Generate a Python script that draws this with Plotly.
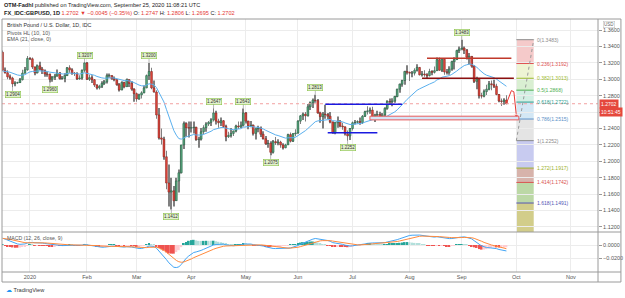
import numpy as np
import pandas as pd
import plotly.graph_objects as go

# ---------------- DATA ----------------
first_bar = "2019-12-17"

open_ = [
    # Dec 2019
    1.3330, 1.3110, 1.3080, 1.3030, 1.3015, 1.2945, 1.2955, 1.2960, 1.2995, 1.3075, 1.3115,
    # Jan 2020
    1.3255, 1.3250, 1.3150, 1.3080, 1.3165, 1.3125, 1.3105, 1.3065, 1.3060, 1.3000, 1.3025, 1.3040,
    1.3075, 1.3010, 1.3010, 1.3045, 1.3140, 1.3115, 1.3075, 1.3070, 1.3005, 1.3015, 1.3110,
    # Feb
    1.3200, 1.3000, 1.3020, 1.2995, 1.2930, 1.2895, 1.2915, 1.2950, 1.2970, 1.3045, 1.3045, 1.3005,
    1.2995, 1.2935, 1.2870, 1.2960, 1.2910, 1.2995, 1.2950, 1.2880,
    # Mar
    1.2825, 1.2760, 1.2810, 1.2835, 1.2895, 1.3045, 1.3095, 1.2895, 1.2845, 1.2565, 1.2285, 1.2270,
    1.2055, 1.1735, 1.1625, 1.1640, 1.1520, 1.1760, 1.1860, 1.2200, 1.2460, 1.2410,
    # Apr
    1.2405, 1.2410, 1.2415, 1.2265, 1.2270, 1.2360, 1.2410, 1.2455, 1.2475, 1.2505, 1.2590, 1.2490,
    1.2470, 1.2495, 1.2425, 1.2300, 1.2315, 1.2340, 1.2370, 1.2430, 1.2420, 1.2440,
    # May
    1.2590, 1.2490, 1.2435, 1.2440, 1.2340, 1.2395, 1.2405, 1.2330, 1.2275, 1.2215, 1.2220, 1.2110,
    1.2240, 1.2225, 1.2235, 1.2200, 1.2165, 1.2200, 1.2325, 1.2245, 1.2335,
    # Jun
    1.2345, 1.2490, 1.2555, 1.2575, 1.2555, 1.2665, 1.2715, 1.2745, 1.2740, 1.2590, 1.2545, 1.2575,
    1.2570, 1.2550, 1.2480, 1.2345, 1.2470, 1.2485, 1.2430, 1.2420, 1.2335, 1.2310,
    # Jul
    1.2400, 1.2470, 1.2475, 1.2485, 1.2470, 1.2550, 1.2605, 1.2615, 1.2625, 1.2545, 1.2565, 1.2570,
    1.2545, 1.2565, 1.2645, 1.2730, 1.2725, 1.2735, 1.2790, 1.2880, 1.2940, 1.2985, 1.3095,
    # Aug
    1.3085, 1.3075, 1.3075, 1.3110, 1.3145, 1.3055, 1.3065, 1.3055, 1.3045, 1.3095, 1.3085, 1.3105,
    1.3240, 1.3110, 1.3245, 1.3090, 1.3085, 1.3125, 1.3215, 1.3240, 1.3350,
    # Sep
    1.3370, 1.3380, 1.3355, 1.3270, 1.3280, 1.3160, 1.2975, 1.3000, 1.2800, 1.2795, 1.2850, 1.2880,
    1.2945, 1.2935, 1.2915, 1.2815, 1.2735, 1.2730, 1.2747,
]
high = [
    1.3350, 1.3145, 1.3110, 1.3060, 1.3030, 1.2975, 1.2970, 1.3015, 1.3118, 1.3150, 1.3284,
    1.3270, 1.3265, 1.3155, 1.3180, 1.3215, 1.3150, 1.3120, 1.3095, 1.3070, 1.3040, 1.3065, 1.3120,
    1.3090, 1.3040, 1.3075, 1.3150, 1.3170, 1.3135, 1.3090, 1.3085, 1.3050, 1.3120, 1.3207,
    1.3210, 1.3055, 1.3050, 1.3005, 1.2940, 1.2935, 1.2975, 1.2990, 1.3070, 1.3070, 1.3050, 1.3035,
    1.3000, 1.2955, 1.2975, 1.2970, 1.3010, 1.3000, 1.2975, 1.2890,
    1.2840, 1.2825, 1.2855, 1.2925, 1.3060, 1.3200, 1.3140, 1.2985, 1.2865, 1.2650, 1.2400, 1.2300,
    1.2130, 1.1960, 1.1800, 1.1700, 1.1800, 1.1900, 1.2200, 1.2485, 1.2475, 1.2485,
    1.2485, 1.2485, 1.2420, 1.2300, 1.2405, 1.2440, 1.2475, 1.2490, 1.2525, 1.2647, 1.2615, 1.2520,
    1.2535, 1.2505, 1.2445, 1.2360, 1.2405, 1.2375, 1.2445, 1.2485, 1.2485, 1.2643,
    1.2600, 1.2495, 1.2490, 1.2450, 1.2410, 1.2435, 1.2425, 1.2365, 1.2310, 1.2260, 1.2245, 1.2260,
    1.2295, 1.2270, 1.2250, 1.2220, 1.2215, 1.2335, 1.2350, 1.2345, 1.2390,
    1.2500, 1.2565, 1.2595, 1.2600, 1.2700, 1.2730, 1.2765, 1.2813, 1.2760, 1.2605, 1.2600, 1.2690,
    1.2590, 1.2600, 1.2485, 1.2480, 1.2545, 1.2505, 1.2470, 1.2425, 1.2375, 1.2405,
    1.2485, 1.2505, 1.2500, 1.2535, 1.2565, 1.2615, 1.2670, 1.2655, 1.2665, 1.2580, 1.2615, 1.2605,
    1.2590, 1.2660, 1.2745, 1.2765, 1.2770, 1.2800, 1.2885, 1.2950, 1.2995, 1.3105, 1.3170,
    1.3095, 1.3100, 1.3135, 1.3185, 1.3150, 1.3100, 1.3110, 1.3075, 1.3130, 1.3110, 1.3155, 1.3265,
    1.3267, 1.3250, 1.3250, 1.3125, 1.3160, 1.3225, 1.3270, 1.3360, 1.3400,
    1.3483, 1.3400, 1.3370, 1.3320, 1.3285, 1.3170, 1.3030, 1.3010, 1.2835, 1.2875, 1.2935, 1.2980,
    1.2985, 1.2995, 1.2945, 1.2820, 1.2765, 1.2770, 1.2806,
]
low = [
    1.3105, 1.3070, 1.3000, 1.2995, 1.2904, 1.2915, 1.2945, 1.2955, 1.2985, 1.3070, 1.3105,
    1.3235, 1.3125, 1.3050, 1.3070, 1.3110, 1.3065, 1.3030, 1.3030, 1.2960, 1.2970, 1.2990, 1.3030,
    1.2995, 1.2995, 1.2965, 1.3040, 1.3080, 1.3055, 1.3040, 1.2990, 1.2995, 1.2995, 1.3085,
    1.2990, 1.2980, 1.2955, 1.2905, 1.2875, 1.2875, 1.2895, 1.2930, 1.2950, 1.3020, 1.2995, 1.2975,
    1.2920, 1.2850, 1.2865, 1.2890, 1.2905, 1.2905, 1.2860, 1.2725,
    1.2725, 1.2750, 1.2765, 1.2830, 1.2890, 1.2990, 1.2880, 1.2840, 1.2520, 1.2265, 1.2205, 1.2020,
    1.1660, 1.1450, 1.1412, 1.1450, 1.1515, 1.1620, 1.1850, 1.2150, 1.2300, 1.2290,
    1.2350, 1.2340, 1.2250, 1.2165, 1.2255, 1.2330, 1.2360, 1.2430, 1.2430, 1.2485, 1.2450, 1.2410,
    1.2430, 1.2405, 1.2245, 1.2285, 1.2290, 1.2310, 1.2355, 1.2395, 1.2405, 1.2425,
    1.2460, 1.2390, 1.2415, 1.2315, 1.2265, 1.2355, 1.2295, 1.2265, 1.2200, 1.2165, 1.2075, 1.2095,
    1.2200, 1.2195, 1.2165, 1.2145, 1.2160, 1.2200, 1.2230, 1.2235, 1.2305,
    1.2335, 1.2455, 1.2505, 1.2485, 1.2545, 1.2625, 1.2650, 1.2715, 1.2580, 1.2470, 1.2400, 1.2520,
    1.2515, 1.2465, 1.2335, 1.2330, 1.2410, 1.2415, 1.2385, 1.2315, 1.2252, 1.2260,
    1.2375, 1.2450, 1.2460, 1.2445, 1.2455, 1.2540, 1.2570, 1.2580, 1.2540, 1.2480, 1.2545, 1.2520,
    1.2505, 1.2535, 1.2630, 1.2690, 1.2670, 1.2715, 1.2780, 1.2835, 1.2910, 1.2935, 1.3060,
    1.2980, 1.3025, 1.3045, 1.3095, 1.3045, 1.3035, 1.3030, 1.3005, 1.3035, 1.3050, 1.3070, 1.3100,
    1.3105, 1.3090, 1.3055, 1.3060, 1.3055, 1.3105, 1.3120, 1.3235, 1.3320,
    1.3355, 1.3310, 1.3240, 1.3180, 1.3140, 1.2955, 1.2880, 1.2765, 1.2765, 1.2780, 1.2810, 1.2865,
    1.2865, 1.2895, 1.2805, 1.2720, 1.2675, 1.2690, 1.2695,
]
close = [
    1.3110, 1.3080, 1.3030, 1.3015, 1.2945, 1.2955, 1.2960, 1.2995, 1.3075, 1.3115, 1.3255,
    1.3250, 1.3150, 1.3080, 1.3165, 1.3125, 1.3105, 1.3065, 1.3060, 1.3000, 1.3025, 1.3040, 1.3075,
    1.3010, 1.3010, 1.3045, 1.3140, 1.3115, 1.3075, 1.3070, 1.3005, 1.3015, 1.3110, 1.3200,
    1.3000, 1.3020, 1.2995, 1.2930, 1.2895, 1.2915, 1.2950, 1.2970, 1.3045, 1.3045, 1.3005, 1.2995,
    1.2935, 1.2870, 1.2960, 1.2910, 1.2995, 1.2950, 1.2880, 1.2825,
    1.2760, 1.2810, 1.2835, 1.2895, 1.3045, 1.3095, 1.2895, 1.2845, 1.2565, 1.2285, 1.2270, 1.2055,
    1.1735, 1.1625, 1.1640, 1.1520, 1.1760, 1.1860, 1.2200, 1.2460, 1.2410, 1.2405,
    1.2410, 1.2415, 1.2265, 1.2270, 1.2360, 1.2410, 1.2455, 1.2475, 1.2505, 1.2590, 1.2490, 1.2470,
    1.2495, 1.2425, 1.2300, 1.2315, 1.2340, 1.2370, 1.2430, 1.2420, 1.2440, 1.2590,
    1.2490, 1.2435, 1.2440, 1.2340, 1.2395, 1.2405, 1.2330, 1.2275, 1.2215, 1.2220, 1.2110, 1.2240,
    1.2225, 1.2235, 1.2200, 1.2165, 1.2200, 1.2325, 1.2245, 1.2335, 1.2345,
    1.2490, 1.2555, 1.2575, 1.2555, 1.2665, 1.2715, 1.2745, 1.2740, 1.2590, 1.2545, 1.2575, 1.2570,
    1.2550, 1.2480, 1.2345, 1.2470, 1.2485, 1.2430, 1.2420, 1.2335, 1.2310, 1.2400,
    1.2470, 1.2475, 1.2485, 1.2470, 1.2550, 1.2605, 1.2615, 1.2625, 1.2545, 1.2565, 1.2570, 1.2545,
    1.2565, 1.2645, 1.2730, 1.2725, 1.2735, 1.2790, 1.2880, 1.2940, 1.2985, 1.3095, 1.3085,
    1.3075, 1.3075, 1.3110, 1.3145, 1.3055, 1.3065, 1.3055, 1.3045, 1.3095, 1.3085, 1.3105, 1.3240,
    1.3110, 1.3245, 1.3090, 1.3085, 1.3125, 1.3215, 1.3240, 1.3350, 1.3370,
    1.3380, 1.3355, 1.3270, 1.3280, 1.3160, 1.2975, 1.3000, 1.2800, 1.2795, 1.2850, 1.2880, 1.2945,
    1.2935, 1.2915, 1.2815, 1.2735, 1.2730, 1.2747, 1.2702,
]

# indicator settings (seeds = indicator state before the first visible bar)
ema_length = 21
ema_seed = 1.3100
macd_fast, macd_slow, macd_sig = 12, 26, 9
macd_fast_seed = 1.3180
macd_slow_seed = 1.3060
macd_signal_seed = 0.0100

# Pivots HL labels
pivot_dates = ["2019-12-23", "2020-01-13", "2020-01-31", "2020-03-09", "2020-03-20", "2020-04-14",
               "2020-04-30", "2020-05-15", "2020-06-10", "2020-06-29", "2020-09-01"]
pivot_prices = [1.2904, 1.2960, 1.3207, 1.3200, 1.1412, 1.2647, 1.2643, 1.2075, 1.2813, 1.2252, 1.3483]
pivot_kind = ["L", "L", "H", "H", "L", "H", "H", "L", "H", "L", "H"]

# Fibonacci retracement drawing
fib_high = 1.3483
fib_low = 1.2252
fib_ratios = [0, 0.236, 0.382, 0.5, 0.618, 0.786, 1, 1.272, 1.414, 1.618, 2.618]
fib_line_colors = ["#8a8a8a", "#e05252", "#9cba2e", "#4caf50", "#2a9d8f", "#5b8fc7",
                   "#8a8a8a", "#9cb02a", "#d9534f", "#5555b5", "#a0a040"]
fib_fill_colors = ["#f5caca", "#eef4d4", "#d9efd2", "#d3efe4", "#d3e7f5", "#e4e4e4",
                   "#c8cbf0", "#d7b3ab", "#bcd8a6", "#d2cd8a"]
fib_x = ["2020-10-01", "2020-10-12"]

# user drawings
blue_x0 = ["2020-06-16", "2020-06-17"]
blue_x1 = ["2020-07-29", "2020-07-15"]
blue_y = [1.2695, 1.2349]
red_x0 = ["2020-08-12", "2020-08-10"]
red_x1 = ["2020-09-29", "2020-09-30"]
red_y = [1.3256, 1.3012]
red_colors = ["#c0392b", "#8b1010"]
zone_x = ["2020-07-10", "2020-10-02"]
zone_y = [1.2505, 1.2550]
path_x = ["2020-09-25", "2020-09-29", "2020-09-30", "2020-10-01"]
path_y = [1.2705, 1.2862, 1.2848, 1.2558]

month_labels = ["2020", "Feb", "Mar", "Apr", "May", "Jun", "Jul", "Aug", "Sep", "Oct", "Nov"]
price_ticks = [1.12, 1.14, 1.16, 1.18, 1.20, 1.22, 1.24, 1.26, 1.28, 1.30, 1.32, 1.34, 1.36]
hidden_tick = 1.26  # covered by the live price labels in the reference
macd_ticks = [0.0, -0.02]

# ---------------- helpers ----------------
n = len(close)
assert len(open_) == n and len(high) == n and len(low) == n
all_days = pd.bdate_range(first_bar, "2020-11-30")
cats = [d.strftime("%Y-%m-%d") for d in all_days]
bar_x = cats[:n]
assert bar_x[-1] == "2020-09-25", bar_x[-1]
month_vals = [pd.bdate_range(f"2020-{m:02d}-01", periods=1)[0].strftime("%Y-%m-%d") for m in range(1, 12)]


def ema(values, length, seed):
    a = 2.0 / (length + 1)
    out, e = [], seed
    for v in values:
        e = a * v + (1 - a) * e
        out.append(e)
    return out


ema21 = ema(close, ema_length, ema_seed)
fast = ema(close, macd_fast, macd_fast_seed)
slow = ema(close, macd_slow, macd_slow_seed)
macd = [f - s for f, s in zip(fast, slow)]
signal = ema(macd, macd_sig, macd_signal_seed)
hist = [m - s for m, s in zip(macd, signal)]
hist_colors = []
prev = hist[0]
for h in hist:
    if h >= 0:
        hist_colors.append("#26a69a" if h >= prev else "#b2dfdb")
    else:
        hist_colors.append("#ffcdd2" if h >= prev else "#ef5350")
    prev = h

up = [c >= o for o, c in zip(open_, close)]
body_base = [min(o, c) for o, c in zip(open_, close)]
body_h = [max(abs(c - o), 0.0003) for o, c in zip(open_, close)]
body_fill = ["#55a57c" if u else "#e0463c" for u in up]
body_line = ["#24593f" if u else "#7d1f18" for u in up]

# ---------------- figure ----------------
W, H = 625, 298
ML, MR, MT, MB = 2, 25, 19, 26
ph = H - MT - MB
split = 40 / ph
FONT = "Liberation Sans, Arial, sans-serif"
GRID = "#ececec"

fig = go.Figure()

fig.add_trace(go.Bar(x=bar_x, base=low, y=[h - l for h, l in zip(high, low)], width=0.3,
                     marker=dict(color="#808080", line=dict(width=0)), xaxis="x", yaxis="y",
                     hoverinfo="skip", showlegend=False))
fig.add_trace(go.Bar(x=bar_x, base=body_base, y=body_h, width=0.75,
                     marker=dict(color=body_fill, line=dict(color=body_line, width=0.5)),
                     xaxis="x", yaxis="y", showlegend=False))
fig.add_trace(go.Scatter(x=bar_x, y=ema21, mode="lines", line=dict(color="#5ab0ee", width=1),
                         xaxis="x", yaxis="y", showlegend=False, hoverinfo="skip"))

# projection path
fig.add_trace(go.Scatter(x=path_x, y=path_y, mode="lines+markers",
                         line=dict(color="#e53935", width=1),
                         marker=dict(symbol="triangle-down", size=[0, 0, 0, 5], color="#e53935"),
                         xaxis="x", yaxis="y", showlegend=False, hoverinfo="skip"))

# MACD pane
fig.add_trace(go.Bar(x=bar_x, y=hist, width=0.75, marker=dict(color=hist_colors, line=dict(width=0)),
                     xaxis="x2", yaxis="y2", showlegend=False))
fig.add_trace(go.Scatter(x=bar_x, y=macd, mode="lines", line=dict(color="#42a5f5", width=1),
                         xaxis="x2", yaxis="y2", showlegend=False))
fig.add_trace(go.Scatter(x=bar_x, y=signal, mode="lines", line=dict(color="#ff8a3d", width=1),
                         xaxis="x2", yaxis="y2", showlegend=False))

shapes = []
# Fibonacci fills and lines
levels = [fib_high - r * (fib_high - fib_low) for r in fib_ratios]
for k in range(len(levels) - 1):
    shapes.append(dict(type="rect", xref="x", yref="y", x0=fib_x[0], x1=fib_x[1],
                       y0=levels[k], y1=levels[k + 1], fillcolor=fib_fill_colors[k],
                       line=dict(width=0), layer="below"))
for k, lv in enumerate(levels):
    shapes.append(dict(type="line", xref="x", yref="y", x0=fib_x[0], x1=fib_x[1], y0=lv, y1=lv,
                       line=dict(color=fib_line_colors[k], width=1)))
shapes.append(dict(type="line", xref="x", yref="y", x0=fib_x[0], x1=fib_x[1], y0=fib_low, y1=fib_high,
                   line=dict(color="#9a9a9a", width=1, dash="dot")))
# last price line
shapes.append(dict(type="line", xref="paper", yref="y", x0=0, x1=1, y0=close[-1], y1=close[-1],
                   line=dict(color="#f2a0a0", width=1, dash="dot")))
# zone rectangle
shapes.append(dict(type="rect", xref="x", yref="y", x0=zone_x[0], x1=zone_x[1], y0=zone_y[0], y1=zone_y[1],
                   fillcolor="#d5e5f6", line=dict(color="#e85a5a", width=1)))
for x0, x1, y in zip(blue_x0, blue_x1, blue_y):
    shapes.append(dict(type="line", xref="x", yref="y", x0=x0, x1=x1, y0=y, y1=y,
                       line=dict(color="#1a1ae0", width=1.5)))
for x0, x1, y, c in zip(red_x0, red_x1, red_y, red_colors):
    shapes.append(dict(type="line", xref="x", yref="y", x0=x0, x1=x1, y0=y, y1=y,
                       line=dict(color=c, width=1.5)))
# frame
fy0 = -10 / ph
fx1 = 1 + (W - 2 - ML - (W - ML - MR)) / (W - ML - MR)
FR = "#9a9a9a"
shapes += [
    dict(type="rect", xref="paper", yref="paper", x0=0, x1=fx1, y0=fy0, y1=1, line=dict(color=FR, width=1)),
    dict(type="line", xref="paper", yref="paper", x0=1, x1=1, y0=fy0, y1=1, line=dict(color=FR, width=1)),
    dict(type="line", xref="paper", yref="paper", x0=0, x1=fx1, y0=split, y1=split, line=dict(color=FR, width=1)),
    dict(type="line", xref="paper", yref="paper", x0=0, x1=fx1, y0=0, y1=0, line=dict(color=FR, width=1)),
]

ann = []
# pivots
for d, p, k in zip(pivot_dates, pivot_prices, pivot_kind):
    ann.append(dict(x=d, y=p, xref="x", yref="y", text=f"{p:.4f}", showarrow=True, arrowhead=0,
                    arrowwidth=0.6, arrowcolor="#8a8a8a", ax=0, ay=(-7 if k == "H" else 7),
                    font=dict(size=4.5, color="#333", family=FONT), bgcolor="#e2f1cc",
                    bordercolor="#8bc34a", borderwidth=0.6, borderpad=0.3))
# fib labels
for r, lv, c in zip(fib_ratios, levels, fib_line_colors):
    if lv < 1.12:
        continue
    ann.append(dict(x=fib_x[1], y=lv, xref="x", yref="y", text=f"{r:g}({lv:.4f})", showarrow=False,
                    xanchor="left", xshift=1, font=dict(size=5, color=c, family=FONT)))


def pa(x, y, text, size=5.5, color="#444", xanchor="left", **kw):
    d = dict(x=x, y=y, xref="paper", yref="paper", text=text, showarrow=False, xanchor=xanchor,
             yanchor="middle", font=dict(size=size, color=color, family=FONT))
    d.update(kw)
    return d


def py(pix):
    return (H - MB - pix) / ph


def px(pix):
    return (pix - ML) / (W - ML - MR)


RED = "#e53935"
ann += [
    pa(0, py(5), "<b>OTM-Fadhl</b> published on TradingView.com, September 25, 2020 11:08:21 UTC",
       size=5.6, color="#222"),
    pa(0, py(13), "<b>FX_IDC:GBPUSD, 1D</b> <span style='color:%s'>1.2702 ▼ −0.0045 (−0.35%%)</span> "
                  "O: <span style='color:%s'>1.2747</span> H: <span style='color:%s'>1.2806</span> "
                  "L: <span style='color:%s'>1.2695</span> C: <span style='color:%s'>1.2702</span>"
                  % (RED, RED, RED, RED, RED), size=5.6, color="#222"),
    pa(px(5), py(25.5), "British Pound / U.S. Dollar, 1D, IDC", size=5.4, color="#333"),
    pa(px(5), py(32.5), "Pivots HL (10, 10)", size=5.4, color="#555"),
    pa(px(5), py(39.5), "EMA (21, close, 0)", size=5.4, color="#555"),
    pa(px(5), py(238), "MACD (12, 26, close, 9)", size=5.2, color="#555"),
    pa(px(4), py(290), "<span style='color:#2196f3'>☁</span> TradingView", size=5.6, color="#333"),
    pa(px(611), py(24), "USD", size=4.5, color="#666", xanchor="center", bgcolor="#fff",
       bordercolor="#bbb", borderwidth=0.5, borderpad=0.5),
    dict(x=1, y=close[-1], xref="paper", yref="y", text="1.2702", showarrow=False, xanchor="left",
         xshift=1, font=dict(size=5, color="#fff", family=FONT), bgcolor="#e5483c", borderpad=1),
    dict(x=1, y=close[-1], xref="paper", yref="y", text="10:51:45", showarrow=False, xanchor="left",
         xshift=1, yshift=-8, font=dict(size=5, color="#fff", family=FONT), bgcolor="#e5483c", borderpad=1),
]

xcommon = dict(type="category", categoryorder="array", categoryarray=cats, range=[-0.24, 239.9],
               tickvals=month_vals, ticktext=month_labels, showgrid=True, gridcolor=GRID, gridwidth=1,
               zeroline=False, showline=False, ticks="", fixedrange=True)

fig.update_layout(
    width=W, height=H, margin=dict(l=ML, r=MR, t=MT, b=MB),
    paper_bgcolor="white", plot_bgcolor="white", barmode="overlay", showlegend=False,
    font=dict(family=FONT, size=5.5, color="#555"),
    xaxis=dict(**xcommon, anchor="y", domain=[0, 1], showticklabels=False,
               rangeslider=dict(visible=False)),
    xaxis2=dict(**xcommon, anchor="y2", domain=[0, 1], matches="x", showticklabels=True,
                tickfont=dict(size=5.5, color="#555")),
    yaxis=dict(domain=[split, 1], side="right", range=[1.11378, 1.37354], tickvals=price_ticks,
               ticktext=["" if abs(v - hidden_tick) < 1e-9 else f"{v:.4f}" for v in price_ticks],
               ticks="outside", ticklen=3, tickcolor="#999",
               showgrid=True, gridcolor=GRID, zeroline=False, tickfont=dict(size=5.5, color="#555"),
               fixedrange=True),
    yaxis2=dict(domain=[0, split], side="right", range=[-0.04154, 0.02], tickvals=macd_ticks,
                ticktext=["0.0000", "−0.0200"], ticks="outside", ticklen=3, tickcolor="#999",
                showgrid=True, gridcolor=GRID, zeroline=False, tickfont=dict(size=5.5, color="#555"),
                fixedrange=True),
    shapes=shapes, annotations=ann,
)

fig.write_html("out.html", config={"displayModeBar": False})
